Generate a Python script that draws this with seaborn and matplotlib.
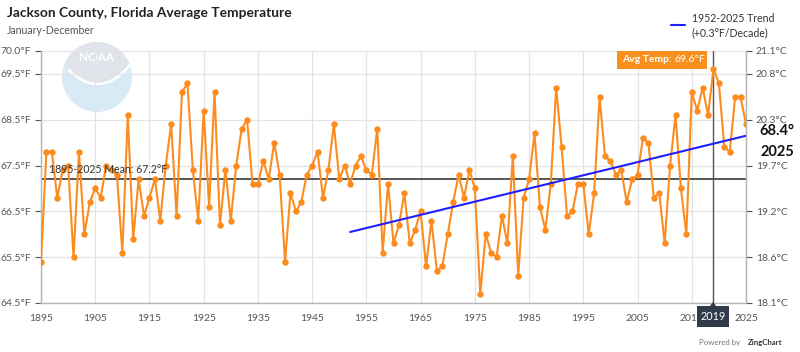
import numpy as np
import pandas as pd
import matplotlib
matplotlib.use("Agg")
import matplotlib.pyplot as plt
import seaborn as sns
from matplotlib.patches import Rectangle, Circle, Polygon

# ---------------- data ----------------
years = list(range(1895, 2026))
temps = [
    65.4, 67.8, 67.8, 66.8, 67.4,                                # 1895-1899
    67.5, 65.5, 67.8, 66.0, 66.7, 67.0, 66.8, 67.5, 67.4, 67.3,  # 1900s
    65.6, 68.6, 65.9, 67.2, 66.4, 66.8, 67.2, 66.3, 67.5, 68.4,  # 1910s
    66.4, 69.1, 69.3, 67.4, 66.3, 68.7, 66.6, 69.1, 66.2, 67.4,  # 1920s
    66.3, 67.5, 68.3, 68.5, 67.1, 67.1, 67.6, 67.2, 68.0, 67.3,  # 1930s
    65.4, 66.9, 66.5, 66.7, 67.3, 67.5, 67.8, 66.8, 67.4, 68.4,  # 1940s
    67.2, 67.5, 67.1, 67.5, 67.7, 67.4, 67.3, 68.3, 65.6, 67.1,  # 1950s
    65.8, 66.2, 66.9, 65.8, 66.1, 66.5, 65.3, 66.3, 65.2, 65.3,  # 1960s
    66.0, 66.7, 67.3, 66.8, 67.4, 67.0, 64.7, 66.0, 65.6, 65.5,  # 1970s
    66.4, 65.8, 67.7, 65.1, 66.8, 67.2, 68.2, 66.6, 66.1, 67.1,  # 1980s
    69.2, 67.9, 66.4, 66.5, 67.1, 67.1, 66.0, 66.9, 69.0, 67.7,  # 1990s
    67.6, 67.3, 67.4, 66.7, 67.2, 67.3, 68.1, 68.0, 66.8, 66.9,  # 2000s
    65.8, 67.5, 68.6, 67.0, 66.0, 69.1, 68.7, 69.2, 68.6, 69.6,  # 2010s
    69.3, 67.9, 67.8, 69.0, 69.0, 68.4,                          # 2020s
]
mean_value = 67.2
trend_years = [1952, 2025]
trend_values = [66.05, 68.15]
hover_year = 2019
hover_value = 69.6
ytick_vals = [64.5, 65.5, 66.5, 67.5, 68.5, 69.5, 70.0]
xtick_vals = list(range(1895, 2026, 10))

df = pd.DataFrame({"year": years, "temp": temps})
trend_df = pd.DataFrame({"year": trend_years, "temp": trend_values})

# ---------------- style ----------------
sns.set_style("white")
plt.rcParams["font.family"] = ["Lato", "DejaVu Sans"]

W, H = 800, 352
fig = plt.figure(figsize=(W / 100, H / 100), dpi=100)


def fx(x):
    return x / W


def fy(y):
    return 1 - y / H


ORANGE = "#fd8c1e"
BLUE = "#1f1fff"
GRID = "#e3e3e3"
TICKC = "#555555"

# ---------------- NOAA watermark ----------------
lx, ly, lr = 97, 77, 35
logo = fig.add_axes([fx(lx - lr), fy(ly + lr), 2 * lr / W, 2 * lr / H])
logo.set_xlim(-1, 1)
logo.set_ylim(-1, 1)
logo.axis("off")
logo.set_zorder(0)
logo.add_patch(Circle((0, 0), 1, color="#d8eaf5", lw=0))
ang = np.linspace(np.deg2rad(158), np.deg2rad(22), 40)
arc = np.column_stack([np.cos(ang), np.sin(ang)])
sky = np.vstack([arc, [[0.96, 0.30], [0.05, -0.30], [-0.88, 0.28]]])
logo.add_patch(Polygon(sky, closed=True, color="#e0e4ea", lw=0))
t = np.linspace(0, 1, 40)
gx = -0.8 + 1.75 * t
gy = 0.2 - 1.9 * t * (1 - t) + 0.15 * t
logo.plot(gx, gy, color="white", lw=1.8, solid_capstyle="round")
logo.text(0, 0.55, "NOAA", color="white", fontsize=8.5, fontweight="bold",
          ha="center", va="center")

# ---------------- main axes ----------------
ax = fig.add_axes([fx(41), fy(303), (746 - 41) / W, (303 - 51) / H])
ax.set_zorder(2)
ax.patch.set_alpha(0)

sns.lineplot(data=df, x="year", y="temp", ax=ax, color=ORANGE, linewidth=1.5,
             marker="o", markersize=4.6, markeredgewidth=0, zorder=3)
sns.lineplot(data=trend_df, x="year", y="temp", ax=ax, color=BLUE,
             linewidth=1.5, zorder=4)
ax.axhline(mean_value, color="#3a3a3a", lw=1.2, zorder=2.5)
ax.axvline(hover_year, color="#555555", lw=1.0, zorder=2.6)

ax.set_xlim(1895, 2025)
ax.set_ylim(64.5, 70.0)
ax.set_xticks(xtick_vals)
ax.set_xticklabels([str(v) for v in xtick_vals])
ax.set_yticks(ytick_vals)
ax.set_yticklabels([f"{v:.1f}°F" for v in ytick_vals])
ax.set_xlabel("")
ax.set_ylabel("")
ax.grid(True, color=GRID, lw=0.9)
ax.set_axisbelow(True)
ax.spines["top"].set_visible(False)
for s in ["left", "bottom", "right"]:
    ax.spines[s].set_color("#b5b5b5")
    ax.spines[s].set_linewidth(1.0)
ax.tick_params(axis="both", labelsize=7.5, colors=TICKC, length=4,
               width=0.8, direction="out", pad=3)
ax.tick_params(axis="x", pad=4)
for lab in ax.get_xticklabels() + ax.get_yticklabels():
    lab.set_color(TICKC)

ax2 = ax.twinx()
ax2.set_ylim(ax.get_ylim())
ax2.set_yticks(ytick_vals)
ax2.set_yticklabels([f"{(v - 32) * 5 / 9:.1f}°C" for v in ytick_vals])
ax2.tick_params(axis="y", labelsize=7.5, colors=TICKC, length=4, width=0.8,
                pad=3)
for s in ["top", "left", "bottom"]:
    ax2.spines[s].set_visible(False)
ax2.spines["right"].set_color("#b5b5b5")
ax2.grid(False)

# mean label
ax.text(1896.5, mean_value + 0.1, "1895-2025 Mean: 67.2°F", fontsize=7.6,
        color="#333333", ha="left", va="bottom", zorder=5)

# ---------------- titles & legend ----------------
fig.text(fx(7), fy(13), "Jackson County, Florida Average Temperature",
         fontsize=9.9, fontweight="bold", color="#222222", ha="left",
         va="center")
fig.text(fx(7), fy(30), "January-December", fontsize=7.6, color="#555555",
         ha="left", va="center")

fig.add_artist(plt.Line2D([fx(671), fx(685)], [fy(25), fy(25)], color=BLUE,
                          lw=1.5))
fig.text(fx(692), fy(18), "1952-2025 Trend", fontsize=7.6, color="#333333",
         ha="left", va="center")
fig.text(fx(692), fy(33), "(+0.3°F/Decade)", fontsize=7.6, color="#333333",
         ha="left", va="center")

# ---------------- hover tooltip ----------------
fig.add_artist(Rectangle((fx(617), fy(69)), (707 - 617) / W, 18 / H,
                         transform=fig.transFigure, color="#f7901e", lw=0,
                         zorder=10))
renderer = fig.canvas.get_renderer()
t_bold = fig.text(fx(622), fy(60), "Avg Temp:", fontsize=7.5,
                  fontweight="bold", color="white", ha="left", va="center",
                  zorder=11)
bb = t_bold.get_window_extent(renderer=renderer)
fig.text((bb.x1 + 3) / W, fy(60), f"{hover_value}°F", fontsize=7.5,
         color="white", ha="left", va="center", zorder=11)

fig.add_artist(Rectangle((fx(697), fy(327)), 32 / W, 21 / H,
                         transform=fig.transFigure, color="#2f3b4a", lw=0,
                         zorder=10))
fig.add_artist(Polygon([[fx(710), fy(306)], [fx(716), fy(306)],
                        [fx(713), fy(302)]], closed=True,
                       transform=fig.transFigure, color="#2f3b4a", lw=0,
                       zorder=10))
fig.text(fx(713), fy(316.5), str(hover_year), fontsize=7.8, color="white",
         ha="center", va="center", zorder=11)

# last value label
fig.text(fx(777), fy(131), f"{temps[-1]}°", fontsize=10.5, fontweight="bold",
         color="#111111", ha="center", va="center")
fig.text(fx(777), fy(152), str(years[-1]), fontsize=10.5, fontweight="bold",
         color="#111111", ha="center", va="center")

# credit
fig.text(fx(782), fy(343), "ZingChart", fontsize=5.6, fontweight="bold",
         color="#333333", ha="right", va="center")
fig.text(fx(740), fy(343), "Powered by", fontsize=5.6, color="#777777",
         ha="right", va="center")

fig.savefig("out.png", dpi=100)
